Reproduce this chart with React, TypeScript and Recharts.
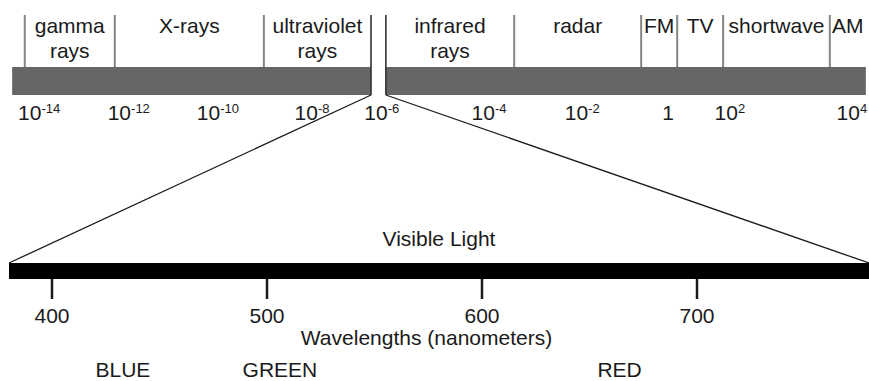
import React from "react";
import {
  ComposedChart,
  XAxis,
  YAxis,
  ReferenceArea,
  ReferenceLine,
  Scatter,
} from "recharts";

// upper bar: schematic position along the spectrum, in log10(wavelength in m)
const EM_DOMAIN = [-14.8, 4.3];
const spectrumRange = [-14.73, 4.23];
const visibleGap = [-6.76, -6.43];

const bandNames = [
  ["gamma", "rays"],
  ["X-rays"],
  ["ultraviolet", "rays"],
  ["infrared", "rays"],
  ["radar"],
  ["FM"],
  ["TV"],
  ["shortwave"],
  ["AM"],
];
const bandStart = [-14.45, -12.45, -9.14, -6.43, -3.58, -0.76, 0.04, 1.06, 3.43];
const bandEnd = [-12.45, -9.14, -6.76, -3.58, -0.76, 0.04, 1.06, 3.43, 4.23];

// decade labels (the diagram is not to scale, so each sits where it is drawn)
const decadeExp = [-14, -12, -10, -8, -6, -4, -2, 0, 2, 4];
const decadePos = [-14.13, -12.14, -10.16, -8.07, -6.52, -4.14, -2.07, -0.16, 1.21, 3.92];

// lower bar: visible light, in nanometers
const visibleRange = [380, 780];
const wavelengthTicks = [400, 500, 600, 700];
const colorNames = ["BLUE", "GREEN", "RED"];
const colorPos = [433, 506, 664];

// layout (pixel rows)
const W = 869;
const H = 381;
const NM_AXIS_H = 72;
const COLOR_AXIS_H = 30;
const PLOT_H = H - NM_AXIS_H - COLOR_AXIS_H;
const DIVIDER_TOP = 15;
const LABEL_ROW = 33;
const LINE_GAP = 25;
const BAR_TOP = 67;
const BAR_BOTTOM = 95;
const DECADE_ROW = 120;
const VIS_TOP = 263;

const INK = "#1a1a1a";
const FONT = 21;

const bandLabels = bandNames.map((lines, i) => ({
  x: (bandStart[i] + bandEnd[i]) / 2,
  y: LABEL_ROW,
  lines,
}));

const decadeLabels = decadeExp.map((exp, i) => ({
  x: decadePos[i],
  y: DECADE_ROW,
  exp,
}));

// anchors so the wavelength axes get a domain of their own
const nmAnchors = visibleRange.map((nm) => ({ nm, y: VIS_TOP }));
const colorAnchors = visibleRange.map((c) => ({ c, y: VIS_TOP }));

const dividers = bandStart.filter((v) => v !== visibleGap[1]);

const BandText = (props: any) => {
  const { cx, cy, payload } = props;
  return (
    <text x={cx} y={cy} textAnchor="middle" fontSize={FONT} fill={INK}>
      {payload.lines.map((l: string, i: number) => (
        <tspan key={l} x={cx} dy={i === 0 ? 0 : LINE_GAP}>
          {l}
        </tspan>
      ))}
    </text>
  );
};

const DecadeText = (props: any) => {
  const { cx, cy, payload } = props;
  if (payload.exp === 0) {
    return (
      <text x={cx} y={cy} textAnchor="middle" fontSize={FONT} fill={INK}>
        1
      </text>
    );
  }
  return (
    <text x={cx} y={cy} textAnchor="middle" fontSize={FONT} fill={INK}>
      10
      <tspan dy={-7} fontSize={13}>
        {payload.exp}
      </tspan>
    </text>
  );
};

const NmTick = (props: any) => {
  const { x, y, payload } = props;
  return (
    <text x={x} y={y + 22} textAnchor="middle" fontSize={FONT} fill={INK}>
      {payload.value}
    </text>
  );
};

const ColorTick = (props: any) => {
  const { x, y, index } = props;
  return (
    <text x={x} y={y + 26} textAnchor="middle" fontSize={FONT} fill={INK}>
      {colorNames[index]}
    </text>
  );
};

const AxisTitle = (props: any) => {
  const { viewBox } = props;
  return (
    <text
      x={viewBox.x + viewBox.width / 2 - 8}
      y={viewBox.y + 66}
      textAnchor="middle"
      fontSize={FONT}
      fill={INK}
    >
      Wavelengths (nanometers)
    </text>
  );
};

const Nothing = () => <g />;

export default function App() {
  return (
    <div
      style={{
        position: "absolute",
        left: 0,
        top: 0,
        background: "#fff",
        fontFamily: '"Liberation Sans", Arial, sans-serif',
      }}
    >
      <ComposedChart width={W} height={H} margin={{ top: 0, right: 0, bottom: 0, left: 0 }}>
        <XAxis
          xAxisId="em"
          type="number"
          dataKey="x"
          domain={EM_DOMAIN}
          allowDataOverflow
          padding={{ left: 9, right: 0 }}
          hide
        />
        <XAxis
          xAxisId="b_colors"
          type="number"
          dataKey="c"
          domain={visibleRange}
          allowDataOverflow
          padding={{ left: 9, right: 0 }}
          ticks={colorPos}
          height={COLOR_AXIS_H}
          tickSize={0}
          tickMargin={0}
          tickLine={false}
          axisLine={false}
          tick={<ColorTick />}
        />
        <XAxis
          xAxisId="a_nm"
          type="number"
          dataKey="nm"
          domain={visibleRange}
          allowDataOverflow
          padding={{ left: 9, right: 0 }}
          ticks={wavelengthTicks}
          height={NM_AXIS_H}
          tickSize={20}
          tickLine={{ stroke: INK, strokeWidth: 2.5 }}
          axisLine={false}
          tick={<NmTick />}
          label={{ content: <AxisTitle /> }}
        />
        <YAxis type="number" dataKey="y" domain={[0, PLOT_H]} reversed allowDataOverflow hide />

        {/* grey spectrum bar, broken where visible light sits */}
        <ReferenceArea
          xAxisId="em"
          x1={spectrumRange[0]}
          x2={visibleGap[0]}
          y1={BAR_TOP}
          y2={BAR_BOTTOM}
          fill="#666666"
          fillOpacity={1}
          stroke="none"
        />
        <ReferenceArea
          xAxisId="em"
          x1={visibleGap[1]}
          x2={spectrumRange[1]}
          y1={BAR_TOP}
          y2={BAR_BOTTOM}
          fill="#666666"
          fillOpacity={1}
          stroke="none"
        />

        {dividers.map((v) => (
          <ReferenceLine
            key={v}
            xAxisId="em"
            segment={[
              { x: v, y: DIVIDER_TOP },
              { x: v, y: BAR_TOP },
            ]}
            stroke="#858585"
            strokeWidth={2}
          />
        ))}

        {visibleGap.map((v) => (
          <ReferenceLine
            key={v}
            xAxisId="em"
            segment={[
              { x: v, y: DIVIDER_TOP },
              { x: v, y: BAR_BOTTOM },
            ]}
            stroke="#333333"
            strokeWidth={1.6}
          />
        ))}

        {/* zoom lines down to the visible light bar */}
        <ReferenceLine
          xAxisId="em"
          segment={[
            { x: visibleGap[0], y: BAR_BOTTOM },
            { x: EM_DOMAIN[0], y: VIS_TOP },
          ]}
          stroke={INK}
          strokeWidth={1.3}
        />
        <ReferenceLine
          xAxisId="em"
          segment={[
            { x: visibleGap[1], y: BAR_BOTTOM },
            { x: EM_DOMAIN[1], y: VIS_TOP },
          ]}
          stroke={INK}
          strokeWidth={1.3}
        />

        <ReferenceArea
          xAxisId="a_nm"
          x1={visibleRange[0]}
          x2={visibleRange[1]}
          y1={VIS_TOP}
          y2={PLOT_H}
          fill="#000"
          fillOpacity={1}
          stroke="none"
          ifOverflow="visible"
          label={{ value: "Visible Light", position: "top", offset: 17, fontSize: FONT, fill: INK }}
        />

        <Scatter xAxisId="a_nm" data={nmAnchors} shape={Nothing} isAnimationActive={false} />
        <Scatter xAxisId="b_colors" data={colorAnchors} shape={Nothing} isAnimationActive={false} />
        <Scatter
          xAxisId="em"
          data={bandLabels}
          shape={(p: any) => <BandText {...p} />}
          isAnimationActive={false}
        />
        <Scatter
          xAxisId="em"
          data={decadeLabels}
          shape={(p: any) => <DecadeText {...p} />}
          isAnimationActive={false}
        />
      </ComposedChart>
    </div>
  );
}
